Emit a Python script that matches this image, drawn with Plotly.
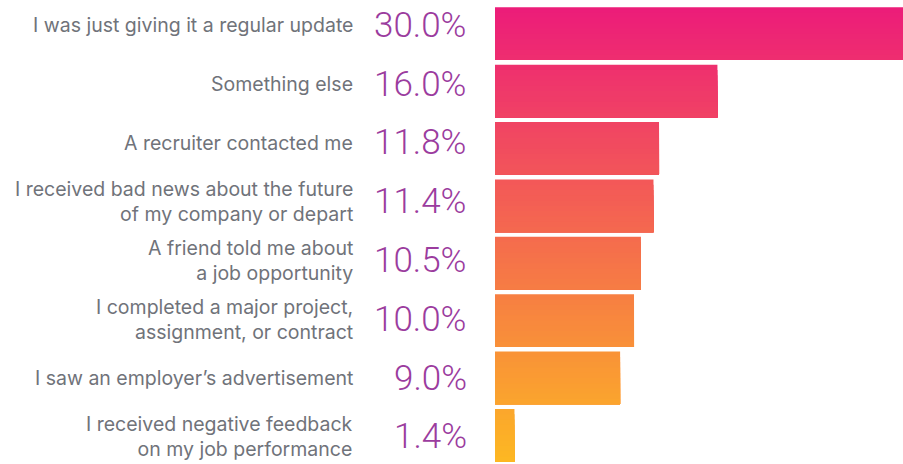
import plotly.graph_objects as go

categories = [
    "I was just giving it a regular update",
    "Something else",
    "A recruiter contacted me",
    "I received bad news about the future<br>of my company or depart",
    "A friend told me about<br>a job opportunity",
    "I completed a major project,<br>assignment, or contract",
    "I saw an employer’s advertisement",
    "I received negative feedback<br>on my job performance",
]
shares = [30.0, 16.0, 11.8, 11.4, 10.5, 10.0, 9.0, 1.4]
pct_labels = ["30.0%", "16.0%", "11.8%", "11.4%", "10.5%", "10.0%", "9.0%", "1.4%"]

TOP_RGB = (236, 27, 122)
BOTTOM_RGB = (253, 185, 34)
BAR_W = 0.92
SLICES = 10  # stacked slices to fake the vertical gradient


def blend(t):
    r, g, b = (round(a + (c - a) * t) for a, c in zip(TOP_RGB, BOTTOM_RGB))
    return f"rgb({r},{g},{b})"


fig = go.Figure()
n = len(categories)
step = BAR_W / SLICES
for k in range(SLICES):
    off = -BAR_W / 2 + k * step
    # each slice runs to the bottom of the bar; the next one covers the rest
    colors = [blend((i + 0.5 + off + step / 2) / n) for i in range(n)]
    fig.add_trace(go.Bar(
        x=shares,
        y=categories,
        orientation="h",
        width=BAR_W / 2 - off,
        offset=off,
        marker=dict(color=colors, line_width=0),
        hoverinfo="skip",
        showlegend=False,
    ))

# text rows sit on a slightly looser grid than the bars -> own axis (y2)
for i, (cat, lab) in enumerate(zip(categories, pct_labels)):
    fig.add_annotation(
        x=0, xref="paper", y=i, yref="y2",
        text=lab, showarrow=False, xanchor="right", xshift=-26,
        font=dict(family="Roboto", size=35, color="#9b3c9e", weight=300),
    )
    fig.add_annotation(
        x=0, xref="paper", y=i, yref="y2",
        text=cat, showarrow=False, xanchor="right", align="right", xshift=-140,
        font=dict(family="Inter", size=19.5, color="#70737a"),
    )

fig.update_layout(
    width=903, height=464,
    margin=dict(l=495, r=0, t=5, b=0),
    plot_bgcolor="white", paper_bgcolor="white",
    barmode="overlay",
    xaxis=dict(range=[0, 29.35], visible=False, fixedrange=True),
    yaxis=dict(autorange="reversed", showticklabels=False, showgrid=False,
               zeroline=False, ticks="", fixedrange=True),
    yaxis2=dict(overlaying="y", range=[7.461, -0.345], visible=False, fixedrange=True),
)

fig.write_html("out.html", config={"displayModeBar": False},
               post_script="document.body.style.margin='0';")
